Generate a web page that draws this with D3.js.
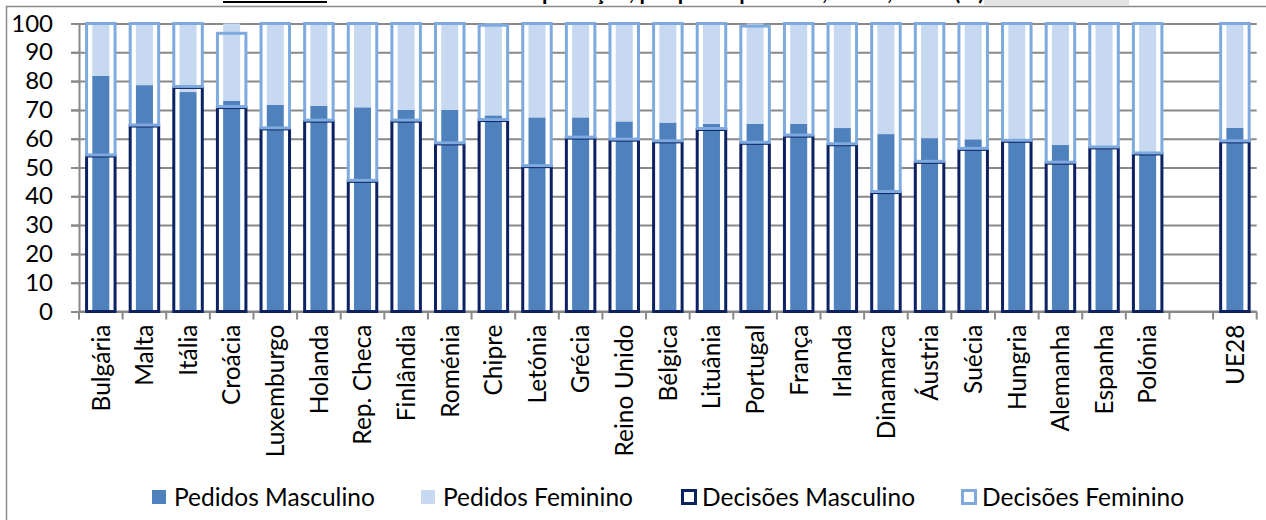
<!DOCTYPE html>
<html>
<head>
<meta charset="utf-8">
<script src="https://cdn.jsdelivr.net/npm/d3@7"></script>
<style>
  html, body { margin: 0; padding: 0; background: #fff; }
  svg { display: block; }
  text { font-family: Lato, "Open Sans", sans-serif; fill: #000; }
</style>
</head>
<body>
<svg id="chart" width="1266" height="520"></svg>
<script>
const categories = ["Bulgária","Malta","Itália","Croácia","Luxemburgo","Holanda","Rep. Checa","Finlândia","Roménia","Chipre","Letónia","Grécia","Reino Unido","Bélgica","Lituânia","Portugal","França","Irlanda","Dinamarca","Áustria","Suécia","Hungria","Alemanha","Espanha","Polónia","","UE28"];
const pedidosMasculino = [81.8,78.6,76.2,73.1,71.8,71.4,70.9,70.0,70.0,68.1,67.4,67.4,66.0,65.6,65.2,65.1,65.1,63.7,61.6,60.2,59.8,59.6,57.8,57.2,55.0,null,63.8];
const pedidosFeminino  = [18.2,21.4,23.8,26.9,28.2,28.6,29.1,30.0,30.0,31.9,32.6,32.6,34.0,34.4,34.8,34.9,34.9,36.3,38.4,39.8,40.2,40.4,42.2,42.8,45.0,null,36.2];
const decisoesMasculino = [54.0,64.4,77.8,70.8,63.4,66.1,45.2,66.1,58.2,66.3,50.3,60.2,59.5,58.9,63.2,58.4,60.9,57.9,41.3,51.8,56.3,59.1,51.5,56.8,54.7,null,58.9];
const decisoesFeminino  = [46.0,35.6,22.2,25.8,36.6,33.9,54.8,33.9,41.8,33.1,49.7,39.8,40.5,41.1,36.8,40.7,39.1,42.1,58.7,48.2,43.7,40.9,48.5,43.2,45.3,null,41.1];
const yTicks = [0,10,20,30,40,50,60,70,80,90,100];
const seriesNames = ["Pedidos Masculino","Pedidos Feminino","Decisões Masculino","Decisões Feminino"];
const titleUnderlined = "Gráfico 4.";
const titleRest = " Pedidos e decisões de proteção, por país e por sexo, UE28, 2013 (%)";

(function () {
const colPM = "#4f81bd", colPF = "#c6d9f1", colDM = "#0c2262", colDF = "#7eaadf";
const gridCol = "#898989";
const fs = "24.5px";

const svg = d3.select("#chart");
const pLeft = 79, pRight = 1256.7, pTop = 23.5, pBottom = 311.5;

const x = d3.scaleBand().domain(categories).range([pLeft, pRight]).paddingInner(0).paddingOuter(0);
const y = d3.scaleLinear().domain([0, 100]).range([pBottom, pTop]);

// title (clipped at top, as in the source image)
svg.append("rect").attr("x", 984).attr("y", 0).attr("width", 145).attr("height", 5).attr("fill", "#e4e4e4");
const title = svg.append("text").attr("x", 223).attr("y", 0)
  .style("font-size", "22px").style("font-weight", "bold");
title.append("tspan").text(titleUnderlined);
title.append("tspan").text(titleRest);
svg.append("line").attr("x1", 223).attr("x2", 327).attr("y1", 2).attr("y2", 2)
  .attr("stroke", "#000").attr("stroke-width", 2);

// chart border
svg.append("path").attr("d", "M6.5,520 L6.5,6.5 L1266,6.5")
  .attr("fill", "none").attr("stroke", "#8a8a8a").attr("stroke-width", 1.5);

// gridlines
svg.append("g").attr("transform", `translate(${pRight},0)`)
  .call(d3.axisLeft(y).tickValues(yTicks).tickSize(pRight - 71).tickFormat(""))
  .call(g => g.select(".domain").remove())
  .call(g => g.selectAll("line").attr("stroke", gridCol).attr("stroke-width", 2));

// y axis
svg.append("g").attr("transform", `translate(${pLeft},0)`)
  .call(d3.axisLeft(y).tickValues(yTicks).tickSize(8).tickPadding(18))
  .call(g => g.select(".domain").attr("stroke", gridCol).attr("stroke-width", 2))
  .call(g => g.selectAll("line").attr("stroke", gridCol).attr("stroke-width", 2))
  .call(g => g.selectAll("text").style("font-size", "24px").style("font-family", "Lato").attr("fill", "#000"));

// x axis line + ticks at band boundaries
const bounds = categories.map(c => x(c)).concat([pRight]);
svg.append("line").attr("x1", pLeft).attr("x2", pRight).attr("y1", pBottom).attr("y2", pBottom)
  .attr("stroke", gridCol).attr("stroke-width", 2);
svg.append("g").selectAll("line").data(bounds).join("line")
  .attr("x1", d => d).attr("x2", d => d).attr("y1", pBottom).attr("y2", pBottom + 8)
  .attr("stroke", gridCol).attr("stroke-width", 2);

// x labels
svg.append("g").attr("transform", `translate(0,${pBottom})`)
  .call(d3.axisBottom(x).tickSize(0).tickPadding(0))
  .call(g => g.select(".domain").remove())
  .call(g => g.selectAll("text")
    .attr("transform", "rotate(-90)")
    .attr("text-anchor", "end")
    .attr("x", -13).attr("y", 0).attr("dy", "0.36em")
    .attr("fill", "#000")
    .style("font-size", fs).style("font-family", "Lato"));

const rows = categories.map((c, i) => ({
  c, pm: pedidosMasculino[i], pf: pedidosFeminino[i], dm: decisoesMasculino[i], df: decisoesFeminino[i]
})).filter(d => d.pm != null);

const bw = x.bandwidth();
const dW = 28.5, pW = 17;

// decision white fill
svg.append("g").selectAll("rect").data(rows).join("rect")
  .attr("x", d => x(d.c) + bw / 2 - dW / 2)
  .attr("width", dW)
  .attr("y", d => y(d.dm + d.df))
  .attr("height", d => y(0) - y(d.dm + d.df))
  .attr("fill", "#fff");

// pedidos stacked
svg.append("g").selectAll("rect").data(rows).join("rect")
  .attr("x", d => x(d.c) + bw / 2 - pW / 2).attr("width", pW)
  .attr("y", d => y(d.pm)).attr("height", d => y(0) - y(d.pm)).attr("fill", colPM);
svg.append("g").selectAll("rect").data(rows).join("rect")
  .attr("x", d => x(d.c) + bw / 2 - pW / 2).attr("width", pW)
  .attr("y", d => y(d.pm + d.pf)).attr("height", d => y(d.pm) - y(d.pm + d.pf)).attr("fill", colPF);

// decisions outlines
svg.append("g").selectAll("rect").data(rows).join("rect")
  .attr("x", d => x(d.c) + bw / 2 - dW / 2).attr("width", dW)
  .attr("y", d => y(d.dm)).attr("height", d => y(0) - y(d.dm))
  .attr("fill", "none").attr("stroke", colDM).attr("stroke-width", 3);
svg.append("g").selectAll("rect").data(rows).join("rect")
  .attr("x", d => x(d.c) + bw / 2 - dW / 2).attr("width", dW)
  .attr("y", d => y(d.dm + d.df)).attr("height", d => y(d.dm) - y(d.dm + d.df) - 1)
  .attr("fill", "none").attr("stroke", colDF).attr("stroke-width", 3);

// legend
const legendItems = [
  { name: seriesNames[0], sx: 152, type: "fill", color: colPM },
  { name: seriesNames[1], sx: 421, type: "fill", color: colPF },
  { name: seriesNames[2], sx: 681, type: "stroke", color: colDM },
  { name: seriesNames[3], sx: 961, type: "stroke", color: colDF }
];
const lg = svg.append("g");
legendItems.forEach(it => {
  if (it.type === "fill") {
    lg.append("rect").attr("x", it.sx).attr("y", 490).attr("width", 14).attr("height", 14).attr("fill", it.color);
  } else {
    lg.append("rect").attr("x", it.sx + 1.5).attr("y", 490.5).attr("width", 13).attr("height", 13)
      .attr("fill", "#fff").attr("stroke", it.color).attr("stroke-width", 3);
  }
  lg.append("text").attr("x", it.sx + (it.type === "fill" ? 22 : 21)).attr("y", 497).attr("dy", "0.36em")
    .style("font-size", fs).text(it.name);
});
})();
</script>
</body>
</html>
